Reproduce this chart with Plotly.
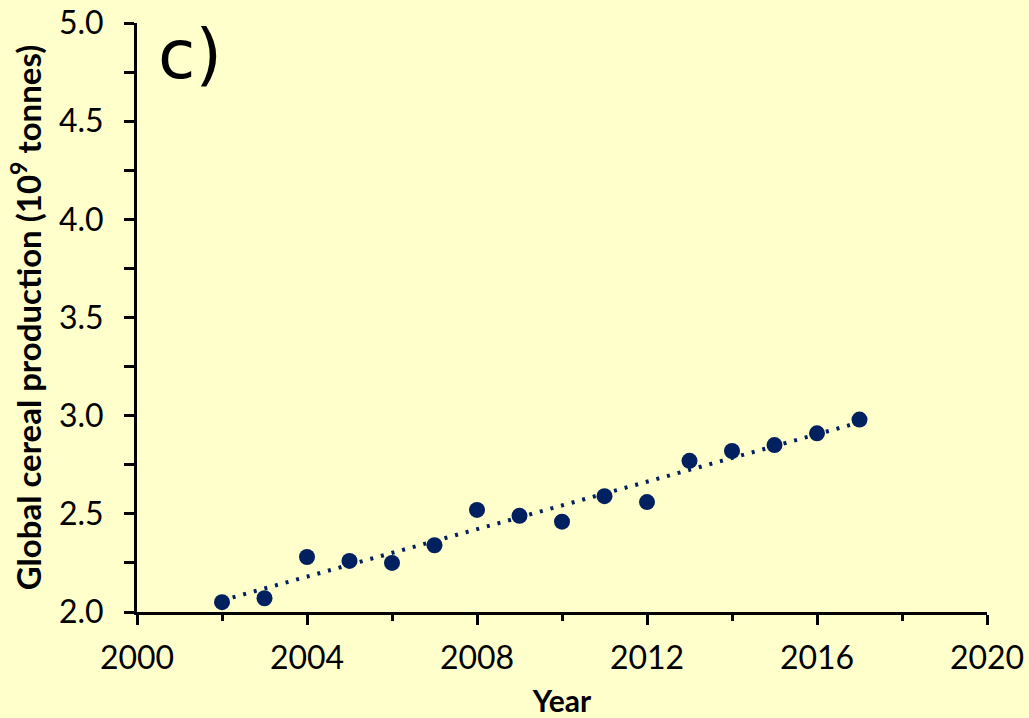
import numpy as np
import plotly.graph_objects as go

# Global cereal production, 2002-2017 (10^9 tonnes)
years = [2002, 2003, 2004, 2005, 2006, 2007, 2008, 2009,
         2010, 2011, 2012, 2013, 2014, 2015, 2016, 2017]
production = [2.05, 2.07, 2.28, 2.26, 2.25, 2.34, 2.52, 2.49,
              2.46, 2.59, 2.56, 2.77, 2.82, 2.85, 2.91, 2.98]

x_ticks = [2000, 2004, 2008, 2012, 2016, 2020]
y_ticks = [2.0, 2.5, 3.0, 3.5, 4.0, 4.5, 5.0]

navy = "#002060"
bg = "#FFFFCC"

# Linear trend fitted to the annual values
slope, intercept = np.polyfit(years, production, 1)
trend_x = [years[0], years[-1]]
trend_y = [slope * x + intercept for x in trend_x]

fig = go.Figure()
fig.add_trace(go.Scatter(
    x=trend_x, y=trend_y, mode="lines",
    line=dict(color=navy, width=4, dash="3px,8px"),
    hoverinfo="skip", showlegend=False,
))
fig.add_trace(go.Scatter(
    x=years, y=production, mode="markers",
    marker=dict(color=navy, size=16),
    showlegend=False,
))

tick_font = dict(family="Lato, Open Sans, sans-serif", size=32, color="black")
title_font = dict(family="Lato, Open Sans, sans-serif", size=30, color="black")
ytitle_font = dict(family="Lato, Open Sans, sans-serif", size=33, color="black")

fig.update_layout(
    width=1029, height=718,
    paper_bgcolor=bg, plot_bgcolor=bg,
    margin=dict(l=137, r=42, t=23, b=106, autoexpand=False),
    xaxis=dict(
        range=[2000, 2020], tickvals=x_ticks, ticktext=[str(v) for v in x_ticks],
        showgrid=False, zeroline=False, automargin=False,
        showline=True, linecolor="black", linewidth=3,
        ticks="outside", ticklen=10, tickwidth=3, tickcolor="black",
        ticklabelstandoff=6,
        minor=dict(dtick=2, tick0=2000, ticks="outside", ticklen=6,
                   tickwidth=3, tickcolor="black", showgrid=False),
        tickfont=tick_font,
        title=dict(text="<b>Year</b>", font=title_font, standoff=18),
    ),
    yaxis=dict(
        range=[2, 5], tickvals=y_ticks, ticktext=[f"{v:.1f}" for v in y_ticks],
        showgrid=False, zeroline=False, automargin=False,
        showline=True, linecolor="black", linewidth=3,
        ticks="outside", ticklen=10, tickwidth=3, tickcolor="black",
        ticklabelstandoff=14,
        minor=dict(dtick=0.25, tick0=2, ticks="outside", ticklen=10,
                   tickwidth=3, tickcolor="black", showgrid=False),
        tickfont=tick_font,
        title=dict(text="<b>Global cereal production (10<sup>9</sup> tonnes)</b>",
                   font=ytitle_font, standoff=8),
    ),
    annotations=[dict(
        text="c)", xref="paper", yref="paper", x=0.062, y=0.946,
        showarrow=False, xanchor="center", yanchor="middle",
        font=dict(family="Comic Sans MS, DejaVu Sans, sans-serif", size=68, color="black"),
    )],
)

fig.write_html("out.html")
